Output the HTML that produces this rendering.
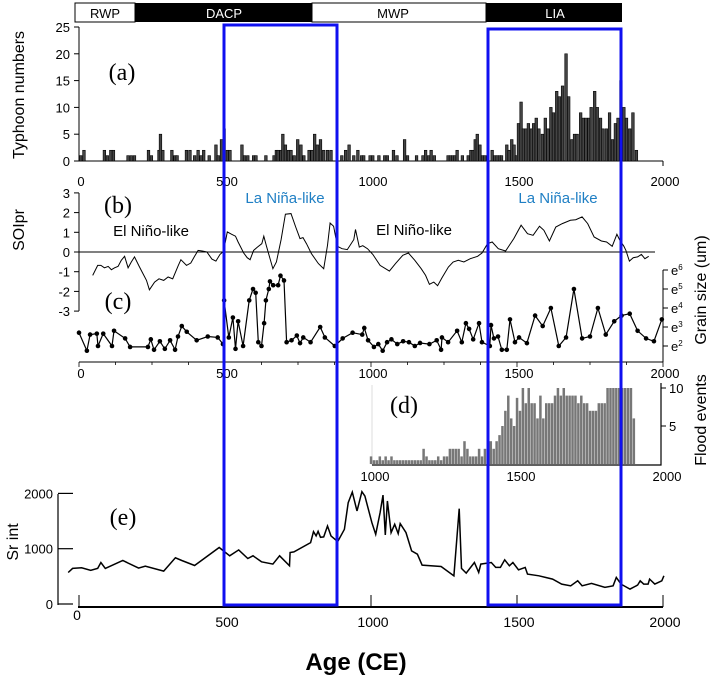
<!DOCTYPE html>
<html><head><meta charset="utf-8"><style>
html,body{margin:0;padding:0;background:#fff;}
svg{display:block;font-family:"Liberation Sans",Arial,sans-serif;}
.t{font-size:13px;fill:#000;}
</style></head><body>
<svg id="fig" width="712" height="678" viewBox="0 0 712 678">
<g>
<rect x="75" y="3" width="60" height="19" fill="#fff" stroke="#000"/>
<rect x="135" y="3" width="177" height="19" fill="#000"/>
<rect x="312" y="3" width="174" height="19" fill="#fff" stroke="#000"/>
<rect x="486" y="3" width="136" height="19" fill="#000"/>
<text x="105" y="18" class="t" text-anchor="middle">RWP</text>
<text x="224" y="18" class="t" text-anchor="middle" style="fill:#fff">DACP</text>
<text x="393" y="18" class="t" text-anchor="middle">MWP</text>
<text x="555" y="18" class="t" text-anchor="middle" style="fill:#fff">LIA</text>
</g>
<g id="a"></g>
<g id="b"></g>
<g id="c"></g>
<g id="d"></g>
<g id="e"></g>
<g>
<rect x="224" y="25" width="113" height="580" fill="none" stroke="#1010f0" stroke-width="3"/>
<rect x="488" y="29" width="133" height="576" fill="none" stroke="#1010f0" stroke-width="3"/>
</g>
<text x="356" y="670" text-anchor="middle" style="font-size:24px;font-weight:bold">Age (CE)</text>
</svg>
<script>
const typhoonYears=[6,17,87,97,109,118,168,179,190,238,248,274,279,287,318,329,336,368,380,396,408,418,427,446,469,477,488,497,508,517,558,567,578,598,606,640,668,676,682,692,698,707,718,726,737,749,760,770,788,798,807,816,827,838,851,863,900,913,925,941,955,968,975,997,1006,1027,1047,1056,1077,1089,1115,1125,1156,1178,1187,1197,1206,1217,1264,1272,1280,1287,1295,1313,1333,1342,1350,1357,1364,1373,1382,1390,1400,1415,1424,1432,1440,1447,1465,1473,1482,1490,1498,1505,1514,1522,1531,1539,1549,1557,1566,1575,1587,1597,1606,1616,1625,1636,1645,1656,1668,1677,1688,1697,1706,1718,1727,1736,1746,1754,1766,1775,1786,1794,1806,1817,1827,1837,1846,1856,1866,1875,1886,1897,1909];
const typhoonCounts=[1,2,2,1,2,2,1,1,1,2,1,2,5,2,2,1,1,2,2,1,2,1,2,1,3,1,4,6,2,2,3,1,1,1,1,1,1,2,2,2,5,3,2,2,1,4,3,1,2,2,5,3,4,2,2,2,1,2,3,1,2,1,1,1,1,1,1,1,2,1,4,1,1,1,2,1,2,1,1,1,1,1,2,1,1,2,2,4,5,3,1,1,1,2,1,1,1,1,3,2,4,3,1,7,11,6,6,7,6,7,8,6,5,8,6,10,9,13,12,14,20,12,4,5,5,9,8,8,8,10,13,10,8,6,6,9,4,7,8,15,10,8,6,9,2];
const soiYears=[47,64,75,87,100,111,122,134,145,156,168,179,190,206,218,231,241,259,274,290,305,321,340,349,368,383,396,408,422,438,455,469,483,495,508,523,536,545,564,576,586,598,611,626,633,642,664,676,692,707,726,742,757,767,779,796,820,838,851,860,872,885,901,919,941,947,960,972,988,1006,1031,1063,1084,1109,1128,1150,1172,1187,1200,1215,1228,1243,1265,1281,1299,1318,1340,1365,1380,1399,1415,1436,1461,1489,1514,1536,1555,1577,1592,1611,1633,1655,1683,1701,1723,1742,1764,1789,1807,1826,1842,1851,1866,1873,1885,1898,1913,1926,1938,1951];
const soiValues=[-1.19,-0.68,-0.68,-0.8,-0.73,-0.9,-0.8,-0.73,-0.42,-0.22,-0.8,-0.51,-0.25,-0.73,-1.07,-1.44,-1.92,-1.53,-1.36,-1.44,-1.27,-1.36,-0.68,-0.39,-0.68,-0.56,-0.22,0.08,0.05,0,-0.36,-0.46,-0.12,0.03,1.02,0.9,0.8,0.51,-0.05,-0.29,-0.39,0.08,0.25,0.42,0.8,0.29,-0.85,-0.51,0.63,1.92,1.95,1.27,0.68,0.73,0.42,-0.08,-0.59,-0.85,0.34,1.47,1.31,0.29,0.17,0.12,0.63,1.14,0.25,0.32,0.17,-0.12,-0.68,-0.97,-0.59,-0.17,-0.05,-0.42,-0.85,-1.19,-1.64,-1.53,-1.71,-1.31,-0.76,-0.51,-0.42,-0.51,-0.34,-0.22,-0.05,0.42,0.51,0.17,0.05,0.68,1.36,0.93,0.85,1.31,1.1,0.56,1.27,1.44,1.61,1.64,1.78,1.44,0.76,0.56,0.51,0.29,0.9,0.63,0.29,0.08,-0.46,-0.29,-0.25,-0.12,-0.34,-0.22];
const grainYears=[0,27,38,61,65,83,113,120,158,175,236,246,257,277,294,312,329,339,352,369,403,441,475,493,497,513,527,536,545,562,583,596,605,614,625,634,640,650,654,665,682,690,702,711,728,746,757,768,793,826,842,876,903,937,970,977,990,1010,1025,1040,1055,1070,1090,1110,1130,1150,1168,1200,1225,1240,1243,1264,1295,1311,1325,1336,1350,1370,1380,1407,1411,1421,1435,1448,1465,1476,1493,1507,1534,1562,1588,1616,1643,1668,1695,1723,1750,1777,1804,1833,1858,1886,1913,1942,1969,1996];
const grainValues=[2.7,1.75,2.6,2.65,2.0,2.65,2.0,2.8,2.4,1.95,1.95,2.35,1.8,2.25,1.85,2.3,1.8,2.5,3.05,2.75,2.3,2.5,2.45,2.1,4.4,2.45,3.5,1.85,3.3,2.0,4.4,5.0,4.8,2.2,2.0,3.2,4.4,5.0,5.4,5.2,5.2,5.7,5.45,2.2,2.3,2.55,2.15,2.45,2.2,3.0,2.45,2.0,2.4,2.7,2.6,2.95,2.3,1.95,2.1,1.75,2.2,2.35,2.1,2.25,2.2,2.0,2.16,2.1,2.3,1.8,2.45,2.2,2.8,2.2,3.2,2.9,2.35,3.2,2.2,2.0,3.1,2.4,2.5,1.8,1.8,3.4,2.2,2.45,2.15,3.6,3.05,4.0,2.0,2.45,5.0,2.4,2.5,4.0,2.6,3.3,3.6,3.7,2.8,2.4,2.25,3.4];
const floodYears=[1000,1010,1020,1030,1040,1050,1060,1070,1080,1090,1100,1110,1120,1130,1140,1150,1160,1170,1180,1190,1200,1210,1220,1230,1240,1250,1260,1270,1280,1290,1300,1310,1320,1330,1340,1350,1360,1370,1380,1390,1400,1410,1420,1430,1440,1450,1460,1470,1480,1490,1500,1510,1520,1530,1540,1550,1560,1570,1580,1590,1600,1610,1620,1630,1640,1650,1660,1670,1680,1690,1700,1710,1720,1730,1740,1750,1760,1770,1780,1790,1800,1810,1820,1830,1840,1850,1860,1870,1880,1890,1900];
const floodCounts=[1,0.5,0.5,1,0.5,1,0.5,1,0.5,0.5,0.5,0.5,0.5,0.5,0.5,0.5,0.5,0.5,2,1,0.5,0.5,0.5,1,0.5,1,1,2,2,2,2,1,3,2,1,1,1,2,1,2,4,3,2,3,3.8,5,7,9,6,5,8.7,7,10,8,10,8,8,6,9,6,8,8,8,9,10,9,10,9,9,9,9,8,9,8,8,7,7,7,8,8,8,10,10,10,10,10,10,10,10,10,6];
const srYears=[-37,-22,9,40,64,75,90,150,204,227,290,330,352,396,480,516,547,578,596,625,664,687,721,723,736,793,803,812,819,827,838,851,863,886,909,922,936,952,969,979,1003,1016,1031,1041,1049,1056,1069,1081,1093,1100,1120,1139,1159,1175,1240,1284,1302,1310,1326,1354,1369,1376,1412,1427,1443,1458,1474,1486,1505,1528,1536,1575,1599,1622,1653,1684,1708,1723,1755,1801,1829,1840,1856,1887,1913,1922,1934,1949,1954,1972,1996,2003];
const srValues=[570,643,655,607,643,751,643,787,649,685,595,835,787,697,1021,871,979,823,871,763,721,871,691,931,943,1111,1309,1231,1315,1207,1213,1411,1231,1129,1351,1832,2024,1682,2030,1952,1471,1261,1652,1970,1249,1862,1291,1441,1273,1453,1291,961,901,703,679,510,1724,643,559,751,571,721,751,661,661,799,691,751,619,661,541,510,480,450,360,330,420,330,372,300,330,480,360,270,342,420,360,360,450,360,420,510];
const xTicks=[0,500,1000,1500,2000];
const typhoonTicks=[0,5,10,15,20,25];
const soiTicks=[-3,-2,-1,0,1,2,3];
const grainTicks=[2,3,4,5,6];
const floodTicks=[5,10];
const floodXTicks=[1000,1500,2000];
const srTicks=[0,1000,2000];

const NS='http://www.w3.org/2000/svg';
function X(y){return 79+y*0.292;}
function Ya(v){return 161-v*5.36;}
function Yb(v){return 252-v*19.7;}
function Yc(v){return 346-(v-2)*19;}
function Yd(v){return 464-v*7.6;}
function Ye(v){return 604-v*0.0553;}
function mk(parent,tag,attrs){const e=document.createElementNS(NS,tag);for(const k in attrs)e.setAttribute(k,attrs[k]);parent.appendChild(e);return e;}
function txt(parent,x,y,s,anchor,size){const t=mk(parent,'text',{x:x,y:y,'text-anchor':anchor||'middle','font-size':size||13});t.textContent=s;return t;}
const ga=document.getElementById('a'),gb=document.getElementById('b'),gc=document.getElementById('c'),gd=document.getElementById('d'),ge=document.getElementById('e');

// panel a
let ax=mk(ga,'path',{d:'M79 27V161H663M663 161v5',stroke:'#000',fill:'none','stroke-width':1});


typhoonTicks.forEach(v=>{mk(ga,'line',{x1:74,x2:79,y1:Ya(v),y2:Ya(v),stroke:'#000'});const t=txt(ga,70,Ya(v)+5,String(v),'end');

});
xTicks.forEach(v=>{const t=txt(ga,X(v)+2,186,String(v));

});
typhoonYears.forEach((yr,i)=>{const r=mk(ga,'rect',{x:X(yr)-1.3,y:Ya(typhoonCounts[i]),width:2.6,height:161-Ya(typhoonCounts[i]),fill:'#444',stroke:'#000','stroke-width':0.6});

});
let l=txt(ga,0,0,'Typhoon numbers','middle',16);l.setAttribute('transform','translate(24,95) rotate(-90)');


l=txt(ga,122,80,'(a)','middle',24);l.setAttribute('font-family','Liberation Serif, serif');



// panel b
ax=mk(gb,'path',{d:'M79 193V311M79 252H655',stroke:'#000',fill:'none','stroke-width':1});


soiTicks.forEach(v=>{mk(gb,'line',{x1:74,x2:79,y1:Yb(v),y2:Yb(v),stroke:'#000'});const t=txt(gb,70,Yb(v)+5,String(v),'end');

});
let p=mk(gb,'polyline',{points:soiYears.map((y,i)=>X(y).toFixed(1)+','+Yb(soiValues[i]).toFixed(1)).join(' '),fill:'none',stroke:'#000','stroke-width':1});


l=txt(gb,0,0,'SOIpr','middle',16);l.setAttribute('transform','translate(24,230) rotate(-90)');


l=txt(gb,118,213,'(b)','middle',24);l.setAttribute('font-family','Liberation Serif, serif');


[[285,'La Niña-like',203,'#1f7fc4'],[558,'La Niña-like',203,'#1f7fc4'],[151,'El Niño-like',236,'#000'],[414,'El Niño-like',235,'#000']].forEach(a=>{const t=txt(gb,a[0],a[2],a[1],'middle',15);t.setAttribute('fill',a[3]);

});

// panel c
ax=mk(gc,'path',{d:'M79 362H663M663 362V270',stroke:'#000',fill:'none','stroke-width':1});


for(let y=0;y<=2000;y+=125){mk(gc,'line',{x1:X(y),x2:X(y),y1:362,y2:y%500===0?367:365,stroke:'#000','stroke-width':0.8});}
xTicks.forEach(v=>{const t=txt(gc,X(v)+2,378,String(v));

});
grainTicks.forEach(v=>{mk(gc,'line',{x1:663,x2:668,y1:Yc(v),y2:Yc(v),stroke:'#000'});const t=mk(gc,'text',{x:671,y:Yc(v)+5,'font-size':13});t.textContent='e';const s=mk(t,'tspan',{'font-size':8,dy:-5});s.textContent=String(v);

});
p=mk(gc,'polyline',{points:grainYears.map((y,i)=>X(y).toFixed(1)+','+Yc(grainValues[i]).toFixed(1)).join(' '),fill:'none',stroke:'#000','stroke-width':1.2});


grainYears.forEach((y,i)=>{const c=mk(gc,'circle',{cx:X(y),cy:Yc(grainValues[i]),r:2.3,fill:'#000'});

});
l=txt(gc,0,0,'Grain size (um)','middle',16);l.setAttribute('transform','translate(706,290) rotate(-90)');


l=txt(gc,118,309,'(c)','middle',24);l.setAttribute('font-family','Liberation Serif, serif');



// panel d
mk(gd,'line',{x1:372,x2:372,y1:385,y2:465,stroke:'#ddd'});
floodYears.forEach((y,i)=>{const r=mk(gd,'rect',{x:X(y)-1.2,y:Yd(floodCounts[i]),width:2.5,height:464-Yd(floodCounts[i]),fill:'#777'});

});
ax=mk(gd,'path',{d:'M372 465H661V383',stroke:'#000',fill:'none','stroke-width':1.2});


floodTicks.forEach(v=>{mk(gd,'line',{x1:661,x2:666,y1:Yd(v),y2:Yd(v),stroke:'#000'});const t=txt(gd,669,Yd(v)+5,String(v),'start');

});
floodXTicks.forEach(v=>{const t=txt(gd,X(v)+4,481,String(v));

});
l=txt(gd,0,0,'Flood events','middle',16);l.setAttribute('transform','translate(706,420) rotate(-90)');


l=txt(gd,404,413,'(d)','middle',24);l.setAttribute('font-family','Liberation Serif, serif');



// panel e
ax=mk(ge,'path',{d:'M58 494V605',stroke:'#000',fill:'none','stroke-width':1.2});


ax=mk(ge,'path',{d:'M78 607H663',stroke:'#000',fill:'none','stroke-width':2});


srTicks.forEach(v=>{mk(ge,'line',{x1:58,x2:73,y1:Ye(v),y2:Ye(v),stroke:'#000','stroke-width':1.2});const t=txt(ge,53,Ye(v)+5,String(v),'end');

});
xTicks.forEach(v=>{mk(ge,'line',{x1:X(v),x2:X(v),y1:595,y2:607,stroke:'#000'});const t=txt(ge,X(v)+(v===0?-2:2),v===0?620:627,String(v),'middle',14);

});
p=mk(ge,'polyline',{points:srYears.map((y,i)=>X(y).toFixed(1)+','+Ye(srValues[i]).toFixed(1)).join(' '),fill:'none',stroke:'#000','stroke-width':1.5});


l=txt(ge,0,0,'Sr int','middle',16);l.setAttribute('transform','translate(18,542) rotate(-90)');


l=txt(ge,123,525,'(e)','middle',24);l.setAttribute('font-family','Liberation Serif, serif');


</script>
</body></html>
